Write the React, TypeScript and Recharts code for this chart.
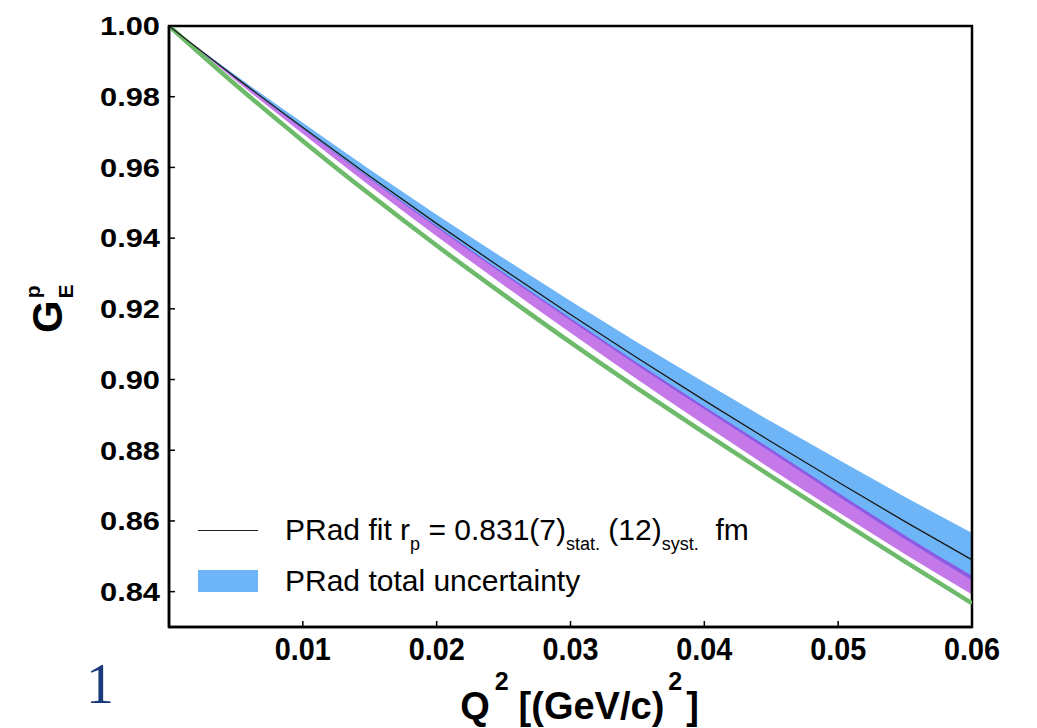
import React from 'react';
import { ComposedChart, Area, Line, XAxis, YAxis, Legend, ReferenceArea } from 'recharts';

const q2 = [0, 0.005, 0.01, 0.015, 0.02, 0.025, 0.03, 0.035, 0.04, 0.045, 0.05, 0.055, 0.06];
const fitValues = [1.0, 0.9854, 0.9713, 0.9575, 0.9441, 0.9311, 0.9184, 0.9061, 0.8941, 0.8824, 0.871, 0.8598, 0.849];
const totalHigh = [1.0, 0.986, 0.9726, 0.9594, 0.9466, 0.9343, 0.9222, 0.9105, 0.8992, 0.8881, 0.8774, 0.8668, 0.8566];
const totalLow = [1.0, 0.9851, 0.9708, 0.9567, 0.943, 0.9297, 0.9167, 0.904, 0.8916, 0.8794, 0.867, 0.8548, 0.8432];
const purpleHigh = [1.0, 0.9852, 0.971, 0.957, 0.9434, 0.9302, 0.9173, 0.9047, 0.8924, 0.8803, 0.868, 0.8559, 0.8445];
const purpleLow = [1.0, 0.9845, 0.9695, 0.9548, 0.9405, 0.9267, 0.9132, 0.9, 0.8872, 0.8747, 0.8625, 0.8506, 0.8392];
const greenValues = [1.0, 0.9833, 0.9675, 0.9524, 0.9379, 0.924, 0.9105, 0.8975, 0.8849, 0.8726, 0.8605, 0.8485, 0.8367];

const xTicks = [0.01, 0.02, 0.03, 0.04, 0.05, 0.06];
const yTicks = [0.84, 0.86, 0.88, 0.9, 0.92, 0.94, 0.96, 0.98, 1.0];

const data = q2.map((q, i) => ({
  q,
  fit: fitValues[i],
  total: [totalLow[i], totalHigh[i]],
  other: [purpleLow[i], purpleHigh[i]],
  green: greenValues[i],
}));

const FONT = '"Liberation Sans", Arial, sans-serif';
const BLUE = '#6eb5f7';

const YTick = (props: any) => (
  <text x={props.x} y={props.y} dy="0.36em" textAnchor="end" fontFamily={FONT} fontWeight="bold"
    fontSize={26} fill="#000" textLength={60} lengthAdjust="spacingAndGlyphs">
    {props.payload.value.toFixed(2)}
  </text>
);

const XTick = (props: any) => (
  <text x={props.x} y={props.y} dy="0.71em" textAnchor="middle" fontFamily={FONT} fontWeight="bold"
    fontSize={32} fill="#000" textLength={56} lengthAdjust="spacingAndGlyphs">
    {props.payload.value.toFixed(2)}
  </text>
);

const XLabel = (props: any) => {
  const vb = props.viewBox;
  const cx = vb.x + vb.width / 2 + 9;
  return (
    <text x={cx} y={vb.y + 92} textAnchor="middle" fontFamily={FONT} fontWeight="bold" fontSize={38} fill="#000">
      <tspan>Q</tspan>
      <tspan dx={5} dy={-29} fontSize={25}>2</tspan>
      <tspan dx={10} dy={29}>[(GeV/c)</tspan>
      <tspan dx={4} dy={-29} fontSize={25}>2</tspan>
      <tspan dx={4} dy={29}>]</tspan>
    </text>
  );
};

const YLabel = () => (
  <text x={54} y={325} transform="rotate(-90, 54, 325)" fontFamily={FONT} fontWeight="bold" fontSize={42} fill="#000">
    <tspan>G</tspan>
    <tspan dx={2} dy={-22} fontSize={21}>p</tspan>
    <tspan dx={-13} dy={33} fontSize={21}>E</tspan>
  </text>
);

const sub = { fontSize: 18, position: 'relative' as const, top: 10 };

const LegendBox = () => (
  <div style={{ fontFamily: FONT, fontSize: 30, color: '#000', lineHeight: 1 }}>
    <div style={{ display: 'flex', alignItems: 'center', height: 40 }}>
      <span style={{ width: 60, borderTop: '1.5px solid #222', marginRight: 27 }} />
      <span style={{ whiteSpace: 'nowrap' }}>
        PRad fit r<span style={sub}>p</span> = 0.831(7)<span style={sub}>stat.</span> (12)<span style={sub}>syst.</span>&nbsp; fm
      </span>
    </div>
    <div style={{ display: 'flex', alignItems: 'center', height: 40, marginTop: 11 }}>
      <span style={{ width: 60, height: 22, background: BLUE, marginRight: 27 }} />
      <span style={{ whiteSpace: 'nowrap' }}>PRad total uncertainty</span>
    </div>
  </div>
);

const App: React.FC = () => {
  return (
    <div style={{ position: 'relative', width: 1021, height: 720 }}>
      <ComposedChart width={1021} height={720} data={data} margin={{ top: 18, right: 57, left: 0, bottom: 0 }}>
        <XAxis
          dataKey="q"
          type="number"
          domain={[0, 0.06]}
          ticks={xTicks}
          allowDataOverflow
          height={101}
          axisLine={{ stroke: '#000', strokeWidth: 2.5 }}
          tickLine={{ stroke: '#000', strokeWidth: 1.5 }}
          tickSize={-6}
          tickMargin={16}
          tick={XTick}
          label={XLabel}
        />
        <YAxis
          type="number"
          domain={[0.83, 1.0]}
          ticks={yTicks}
          allowDataOverflow
          width={161}
          axisLine={{ stroke: '#000', strokeWidth: 2.5 }}
          tickLine={{ stroke: '#000', strokeWidth: 1.5 }}
          tickSize={-6}
          tickMargin={15}
          tick={YTick}
          label={YLabel}
        />
        <Area dataKey="total" type="monotone" stroke="none" fill={BLUE} fillOpacity={1}
          isAnimationActive={false} dot={false} activeDot={false} />
        <Area dataKey="other" type="monotone" stroke="none" fill="rgb(158,32,217)" fillOpacity={0.6}
          isAnimationActive={false} dot={false} activeDot={false} />
        <Line dataKey="green" type="monotone" stroke="#6dbb6a" strokeWidth={4.5}
          isAnimationActive={false} dot={false} activeDot={false} />
        <Line dataKey="fit" type="monotone" stroke="#1a1a1a" strokeWidth={1.3}
          isAnimationActive={false} dot={false} activeDot={false} />
        <ReferenceArea x1={0} x2={0.06} y1={0.83} y2={1.0} fill="none" stroke="#000" strokeWidth={2.5}
          ifOverflow="visible" />
        <Legend layout="vertical" verticalAlign="middle" align="center" content={LegendBox}
          wrapperStyle={{ left: 190, top: 502, width: 'auto', height: 'auto' }} />
      </ComposedChart>
      <div style={{ position: 'absolute', left: 78, top: 648, fontFamily: '"Liberation Serif", serif',
        fontSize: 56, lineHeight: 1, color: '#1b3a7a' }}>1</div>
    </div>
  );
};

export default App;
